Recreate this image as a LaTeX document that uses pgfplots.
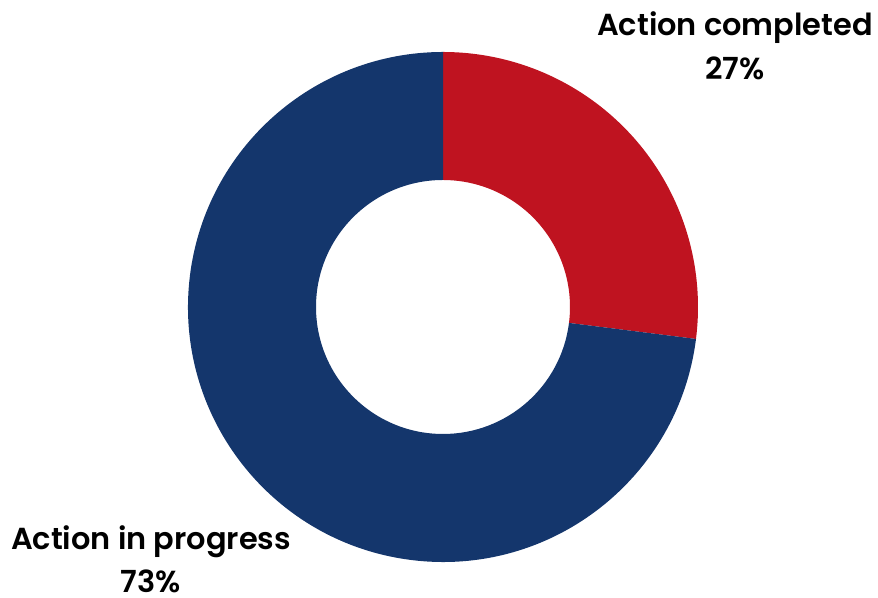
\documentclass[border=0pt]{standalone}
\usepackage{fontspec}
\setmainfont{Poppins}[BoldFont={Poppins SemiBold}]
\usepackage{pgfplots}
\usepackage{pgfplotstable}
\pgfplotsset{compat=1.18}
\definecolor{cred}{RGB}{191,19,32}
\definecolor{cblue}{RGB}{20,54,108}
\pgfplotstableread{
value
27
73
}\donutdata
\begin{document}
\begin{tikzpicture}
\pgfplotstablegetelem{0}{value}\of\donutdata \let\va\pgfplotsretval
\pgfplotstablegetelem{1}{value}\of\donutdata \let\vb\pgfplotsretval
\pgfmathsetmacro{\aStart}{90}
\pgfmathsetmacro{\aMid}{90-3.6*\va}
\pgfmathsetmacro{\aEnd}{\aMid-3.6*\vb}
\begin{axis}[hide axis, scale only axis, width=439pt, height=299pt,
  xmin=0, xmax=878, ymin=0, ymax=598, clip=false]
\fill[cred] ([shift={(\aStart:127.5pt)}]axis cs:443,291)
  arc[start angle=\aStart, end angle=\aMid, radius=127.5pt]
  -- ([shift={(\aMid:63.5pt)}]axis cs:443,291)
  arc[start angle=\aMid, end angle=\aStart, radius=63.5pt] -- cycle;
\fill[cblue] ([shift={(\aMid:127.5pt)}]axis cs:443,291)
  arc[start angle=\aMid, end angle=\aEnd, radius=127.5pt]
  -- ([shift={(\aEnd:63.5pt)}]axis cs:443,291)
  arc[start angle=\aEnd, end angle=\aMid, radius=63.5pt] -- cycle;
\node[anchor=base, font=\fontsize{15.2}{18}\selectfont\bfseries, inner sep=0pt] at (axis cs:735,562) {Action completed};
\node[anchor=base, font=\fontsize{15.2}{18}\selectfont\bfseries, inner sep=0pt] at (axis cs:735,518) {\va\%};
\node[anchor=base, font=\fontsize{15.2}{18}\selectfont\bfseries, inner sep=0pt] at (axis cs:151,48) {Action in progress};
\node[anchor=base, font=\fontsize{15.2}{18}\selectfont\bfseries, inner sep=0pt] at (axis cs:151,5) {\vb\%};
\end{axis}
\pgfresetboundingbox
\useasboundingbox (0,0) rectangle (439pt,299pt);
\end{tikzpicture}
\end{document}
